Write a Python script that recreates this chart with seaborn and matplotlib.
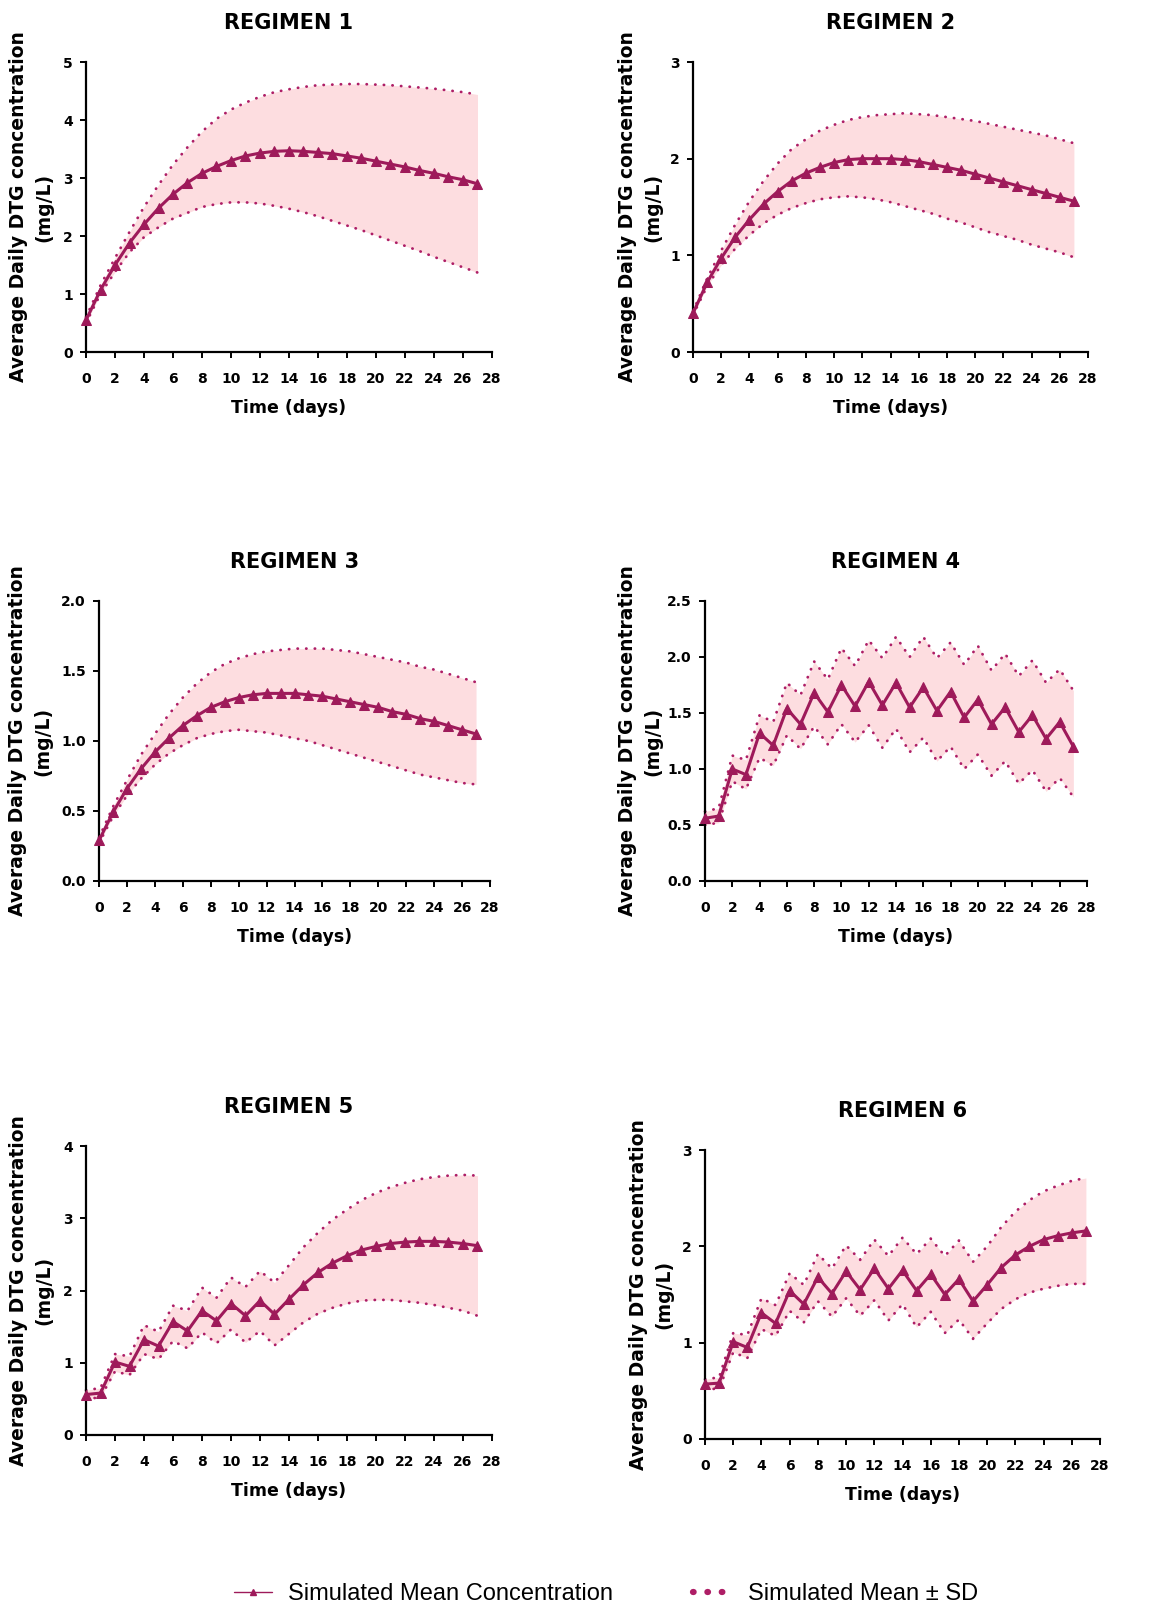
import seaborn as sns
import matplotlib.pyplot as plt
import pandas as pd
import numpy as np
from matplotlib.lines import Line2D

days = list(range(28))

# regimen 1
r1_mean = [0.55, 1.07, 1.50, 1.88, 2.20, 2.48, 2.72, 2.92, 3.08, 3.20, 3.30, 3.38, 3.43, 3.46,
           3.47, 3.46, 3.44, 3.42, 3.38, 3.34, 3.29, 3.24, 3.19, 3.13, 3.08, 3.02, 2.97, 2.90]
r1_upper = [0.60, 1.15, 1.62, 2.07, 2.50, 2.88, 3.23, 3.53, 3.80, 4.02, 4.18, 4.30, 4.40, 4.48,
            4.53, 4.57, 4.60, 4.61, 4.62, 4.62, 4.61, 4.60, 4.58, 4.56, 4.54, 4.51, 4.48, 4.44]
r1_lower = [0.50, 1.00, 1.38, 1.72, 1.98, 2.15, 2.30, 2.40, 2.50, 2.55, 2.58, 2.58, 2.56, 2.52,
            2.47, 2.41, 2.34, 2.26, 2.18, 2.10, 2.01, 1.92, 1.83, 1.74, 1.64, 1.55, 1.46, 1.37]

# regimen 2
r2_mean = [0.40, 0.72, 0.97, 1.19, 1.37, 1.53, 1.66, 1.77, 1.85, 1.91, 1.96, 1.99, 2.00, 2.00,
           2.00, 1.99, 1.97, 1.94, 1.91, 1.88, 1.84, 1.80, 1.76, 1.72, 1.68, 1.64, 1.60, 1.56]
r2_upper = [0.42, 0.76, 1.05, 1.32, 1.56, 1.77, 1.95, 2.10, 2.20, 2.29, 2.35, 2.40, 2.43, 2.45,
            2.46, 2.47, 2.46, 2.45, 2.43, 2.41, 2.39, 2.36, 2.33, 2.30, 2.27, 2.24, 2.20, 2.16]
r2_lower = [0.38, 0.68, 0.90, 1.07, 1.21, 1.33, 1.42, 1.49, 1.54, 1.58, 1.60, 1.61, 1.60, 1.58,
            1.55, 1.51, 1.47, 1.43, 1.38, 1.34, 1.29, 1.24, 1.20, 1.16, 1.11, 1.07, 1.03, 0.98]

# regimen 3
r3_mean = [0.29, 0.49, 0.66, 0.80, 0.92, 1.02, 1.11, 1.18, 1.24, 1.28, 1.31, 1.33, 1.34, 1.34,
           1.34, 1.33, 1.32, 1.30, 1.28, 1.26, 1.24, 1.21, 1.19, 1.16, 1.14, 1.11, 1.08, 1.05]
r3_upper = [0.31, 0.53, 0.72, 0.90, 1.05, 1.19, 1.31, 1.41, 1.49, 1.55, 1.59, 1.62, 1.64, 1.65,
            1.66, 1.66, 1.66, 1.65, 1.64, 1.62, 1.60, 1.58, 1.56, 1.53, 1.51, 1.48, 1.45, 1.42]
r3_lower = [0.27, 0.46, 0.61, 0.73, 0.83, 0.91, 0.97, 1.02, 1.05, 1.07, 1.08, 1.07, 1.06, 1.04,
            1.02, 1.00, 0.97, 0.94, 0.91, 0.88, 0.85, 0.82, 0.79, 0.76, 0.74, 0.72, 0.70, 0.69]

# regimen 4
r4_mean = [0.56, 0.58, 1.00, 0.95, 1.32, 1.21, 1.54, 1.40, 1.68, 1.51, 1.75, 1.56, 1.78, 1.57,
           1.77, 1.55, 1.73, 1.52, 1.69, 1.46, 1.62, 1.40, 1.55, 1.33, 1.48, 1.27, 1.42, 1.20]
r4_upper = [0.62, 0.65, 1.12, 1.08, 1.48, 1.42, 1.77, 1.66, 1.96, 1.80, 2.08, 1.92, 2.15, 1.99,
            2.18, 2.00, 2.18, 1.99, 2.13, 1.93, 2.10, 1.88, 2.03, 1.83, 1.97, 1.77, 1.89, 1.70]
r4_lower = [0.50, 0.52, 0.89, 0.82, 1.10, 1.03, 1.30, 1.18, 1.38, 1.22, 1.40, 1.24, 1.39, 1.19,
            1.36, 1.15, 1.28, 1.07, 1.20, 1.00, 1.13, 0.94, 1.07, 0.87, 0.99, 0.80, 0.92, 0.75]

# regimen 5
r5_mean = [0.56, 0.58, 1.01, 0.95, 1.32, 1.23, 1.57, 1.44, 1.72, 1.58, 1.82, 1.65, 1.86, 1.67,
           1.88, 2.08, 2.25, 2.38, 2.48, 2.56, 2.61, 2.65, 2.67, 2.68, 2.68, 2.67, 2.65, 2.62]
r5_upper = [0.62, 0.65, 1.12, 1.09, 1.52, 1.43, 1.79, 1.72, 2.04, 1.90, 2.18, 2.05, 2.27, 2.11,
            2.35, 2.60, 2.80, 2.98, 3.12, 3.25, 3.35, 3.43, 3.49, 3.54, 3.57, 3.59, 3.60, 3.59]
r5_lower = [0.50, 0.52, 0.88, 0.83, 1.12, 1.05, 1.30, 1.20, 1.42, 1.27, 1.46, 1.28, 1.44, 1.24,
            1.40, 1.56, 1.68, 1.76, 1.82, 1.86, 1.87, 1.87, 1.85, 1.83, 1.80, 1.76, 1.72, 1.65]

# regimen 6
r6_mean = [0.57, 0.58, 1.01, 0.95, 1.31, 1.20, 1.54, 1.40, 1.68, 1.51, 1.74, 1.55, 1.77, 1.56,
           1.75, 1.54, 1.71, 1.50, 1.66, 1.43, 1.60, 1.78, 1.91, 2.00, 2.07, 2.11, 2.14, 2.16]
r6_upper = [0.62, 0.64, 1.10, 1.08, 1.46, 1.39, 1.72, 1.60, 1.92, 1.77, 2.01, 1.86, 2.07, 1.90,
            2.09, 1.92, 2.08, 1.90, 2.06, 1.84, 2.00, 2.20, 2.36, 2.48, 2.57, 2.63, 2.68, 2.71]
r6_lower = [0.52, 0.52, 0.90, 0.84, 1.14, 1.07, 1.33, 1.21, 1.43, 1.27, 1.46, 1.28, 1.44, 1.23,
            1.40, 1.16, 1.32, 1.10, 1.24, 1.04, 1.20, 1.35, 1.45, 1.52, 1.56, 1.59, 1.61, 1.61]

titles = ['REGIMEN 1', 'REGIMEN 2', 'REGIMEN 3', 'REGIMEN 4', 'REGIMEN 5', 'REGIMEN 6']
y_max = [5, 3, 2.0, 2.5, 4, 3]
y_step = [1, 1, 0.5, 0.5, 1, 1]
y_fmt = ['{:.0f}', '{:.0f}', '{:.1f}', '{:.1f}', '{:.0f}', '{:.0f}']
series = [(r1_mean, r1_upper, r1_lower), (r2_mean, r2_upper, r2_lower),
          (r3_mean, r3_upper, r3_lower), (r4_mean, r4_upper, r4_lower),
          (r5_mean, r5_upper, r5_lower), (r6_mean, r6_upper, r6_lower)]

W, H = 1165, 1609
# axes boxes in pixels: left, top, right, bottom
boxes = [(86, 62, 492, 352), (693, 62, 1088, 352),
         (99, 601, 490, 881), (705, 601, 1087, 881),
         (86, 1146, 492, 1435), (705, 1150, 1100, 1439)]
# distance (px) from y axis to right edge of the y label
ylab_off = [33, 31, 47, 43, 33, 32]

LINE = '#9E1A5A'
DOT = '#AE1E66'
FILL = '#FDDDE0'

sns.set_style('ticks')
plt.rcParams['font.family'] = ['DejaVu Sans']
plt.rcParams['text.color'] = 'black'
plt.rcParams['axes.labelcolor'] = 'black'

fig = plt.figure(figsize=(W / 100, H / 100), dpi=100)

for i, (l, t, r, b) in enumerate(boxes):
    ax = fig.add_axes([l / W, 1 - b / H, (r - l) / W, (b - t) / H])
    mean, upper, lower = series[i]
    df = pd.DataFrame({'day': days, 'mean': mean, 'upper': upper, 'lower': lower})

    ax.fill_between(df['day'], df['lower'], df['upper'], color=FILL, lw=0, zorder=1)
    for col in ['upper', 'lower']:
        sns.lineplot(data=df, x='day', y=col, ax=ax, color=DOT, lw=2.0,
                     linestyle=(0, (0.1, 3.0)), dash_capstyle='round', zorder=2,
                     clip_on=False)
    sns.lineplot(data=df, x='day', y='mean', ax=ax, color=LINE, lw=2.2,
                 marker='^', markersize=7.5, markeredgecolor=LINE,
                 markerfacecolor=LINE, zorder=3, clip_on=False)

    ax.set_xlim(0, 28)
    ax.set_ylim(0, y_max[i])
    ax.set_xticks(range(0, 29, 2))
    yt = np.arange(0, y_max[i] + 1e-9, y_step[i])
    ax.set_yticks(yt)
    ax.set_yticklabels([y_fmt[i].format(v) for v in yt])
    sns.despine(ax=ax)
    for s in ['left', 'bottom']:
        ax.spines[s].set_linewidth(1.6)
        ax.spines[s].set_color('black')
    ax.tick_params(direction='out', length=4.5, width=1.4, colors='black',
                   labelsize=10)
    ax.tick_params(axis='x', pad=10)
    ax.tick_params(axis='y', pad=5)
    for lab in ax.get_xticklabels() + ax.get_yticklabels():
        lab.set_fontweight('bold')

    axw, axh = r - l, b - t
    ax.set_title(titles[i], fontsize=15, fontweight='bold', pad=24)
    ax.set_xlabel('Time (days)', fontsize=12.5, fontweight='bold')
    ax.xaxis.set_label_coords(0.5, -47 / axh)
    ax.set_ylabel('Average Daily DTG concentration\n(mg/L)', fontsize=13.5,
                  fontweight='bold', linespacing=1.4)
    ax.yaxis.set_label_coords(-ylab_off[i] / axw, 0.5)

handles = [
    Line2D([], [], color=LINE, lw=1.0, marker='^', markersize=5),
    Line2D([], [], color=DOT, lw=4.5, linestyle=(0, (0.1, 2.2)), dash_capstyle='round'),
]
fig.legend(handles, ['Simulated Mean Concentration', 'Simulated Mean \u00b1 SD'],
           loc='center', bbox_to_anchor=(0.52, 1 - 1594 / H), ncol=2,
           frameon=False, handlelength=1.6, columnspacing=3.4, handletextpad=0.7,
           prop={'family': 'Liberation Sans', 'size': 17})

fig.savefig('out.png', dpi=100)
